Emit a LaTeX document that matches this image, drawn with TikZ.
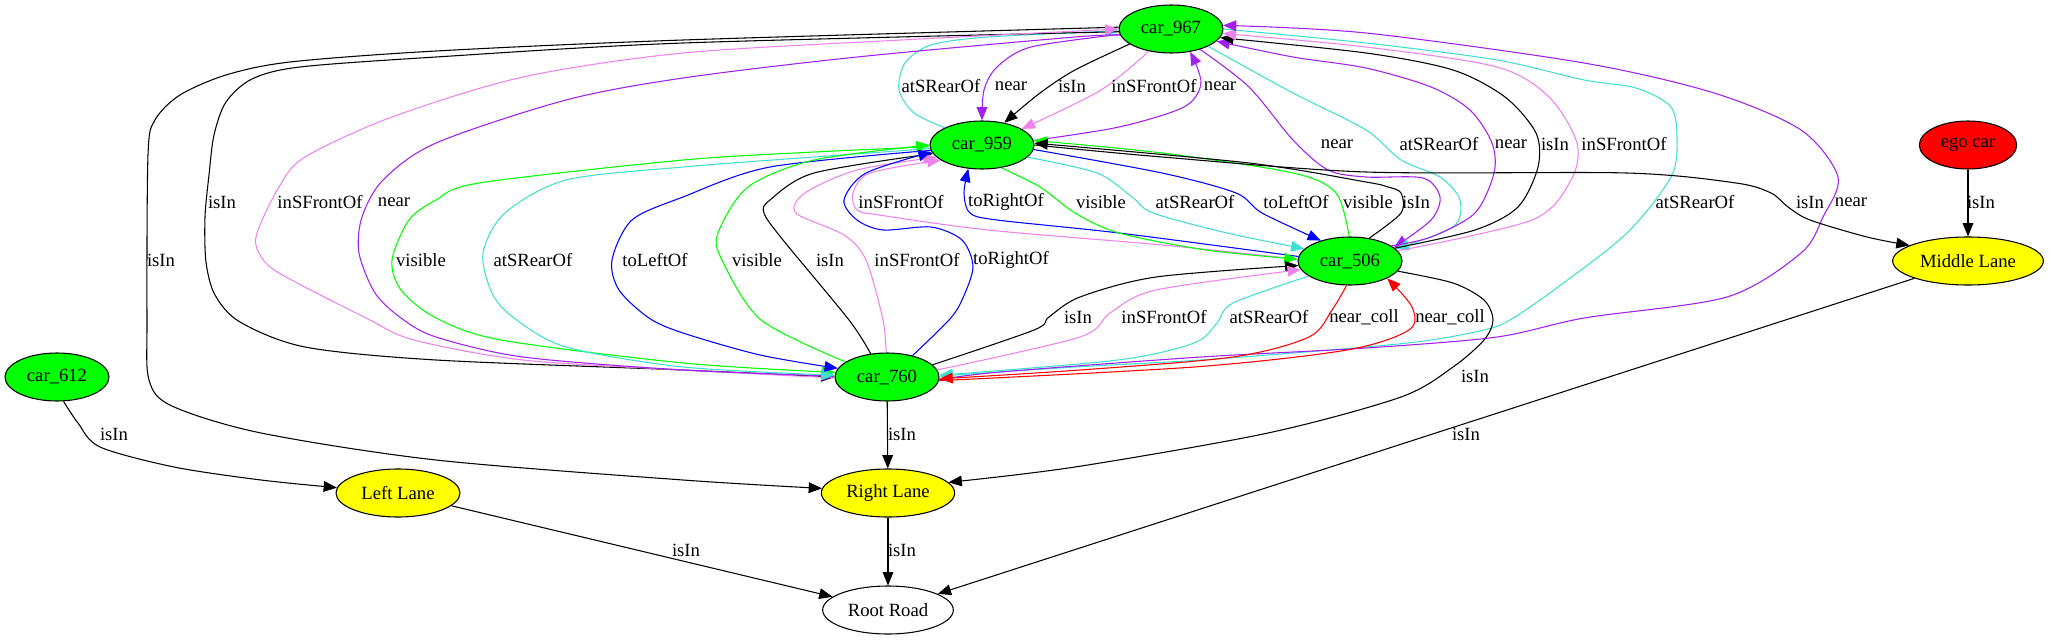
\documentclass[tikz,border=0pt]{standalone}
\usepackage{fontspec}
\setmainfont{Liberation Serif}
\usetikzlibrary{shapes.geometric,arrows.meta}
\definecolor{gvgreen}{HTML}{00FF00}
\definecolor{gvturq}{HTML}{40E0D0}
\definecolor{gvviolet}{HTML}{EE82EE}
\definecolor{gvpurple}{HTML}{A020F0}
\definecolor{gvblue}{HTML}{0000FF}
\definecolor{gvred}{HTML}{FF0000}
\definecolor{gvyellow}{HTML}{FFFF00}
\tikzset{
  nd/.style={ellipse, draw=black, line width=0.8pt, minimum height=36pt, inner sep=0pt, font=\fontsize{14pt}{16pt}\selectfont},
  car/.style={nd, fill=gvgreen, minimum width=78pt},
  lane/.style={nd, fill=gvyellow},
  e/.style={line width=0.8pt, -{Triangle[length=10pt,width=8pt]}},
  lab/.style={inner sep=0pt, font=\fontsize{14pt}{16pt}\selectfont},
}
\begin{document}
\begin{tikzpicture}[x=0.75pt,y=-0.75pt]
\useasboundingbox (0,0) rectangle (2049,639);
% nodes
\node[car] (c967) at (1171,29) {car\_967};
\node[car] (c959) at (982,145) {car\_959};
\node[car] (c506) at (1350,261) {car\_506};
\node[car] (c760) at (887,377) {car\_760};
\node[car] (c612) at (57,377) {car\_612};
\node[nd, fill=gvred, minimum width=73pt] (ego) at (1968,145) {ego car};
\node[lane, minimum width=113pt] (mid) at (1968,261) {Middle Lane};
\node[lane, minimum width=93pt] (left) at (398,493) {Left Lane};
\node[lane, minimum width=100pt] (right) at (888,493) {Right Lane};
\node[nd, fill=white, minimum width=98pt] (root) at (888,610) {Root Road};

% A: car_967 <-> car_959
\draw[e,gvturq] plot[smooth] coordinates {(c959.155) (914,113) (899,90) (905,63) (931,45) (988,37) (c967.182)};
\draw[e,gvpurple] plot[smooth] coordinates {(c967.186) (1031,47) (997,67) (984,90) (c959.90)};
\draw[e,black] plot[smooth] coordinates {(c967.200) (1075,70) (1040,93) (c959.45)};
\draw[e,gvviolet] plot[smooth] coordinates {(c967.225) (1101,90) (c959.22)};
\draw[e,gvpurple] plot[smooth] coordinates {(c959.5) (1119,127) (1184,107) (1201,83) (c967.310)};

% B: car_967 <-> car_506
\draw[e,gvpurple] plot[smooth] coordinates {(c967.325) (1249,87) (1293,140) (1328,170) (1366,177) (1423,178) (1440,197) (1431,220) (c506.17)};
\draw[e,gvturq] plot[smooth] coordinates {(c967.335) (1293,93) (1366,130) (1401,160) (1440,177) (1460,200) (1453,227) (c506.15)};
\draw[e,gvpurple] plot[smooth] coordinates {(c506.20) (1431,237) (1475,213) (1494,173) (1492,143) (1470,110) (1431,87) (1366,68) (1293,57) (c967.345)};
\draw[e,black] plot[smooth] coordinates {(c506.16) (1475,230) (1518,207) (1538,167) (1536,133) (1505,97) (1453,70) (1366,53) (c967.350)};
\draw[e,gvviolet] plot[smooth] coordinates {(c506.12) (1532,220) (1571,180) (1577,143) (1549,97) (1497,67) (1366,47) (c967.355)};

% C: car_967 <-> car_760 and car_967 -> Right Lane
\draw[e,gvturq] plot[smooth] coordinates {(c967.0) (1366,43) (1497,60) (1584,80) (1636,88) (1671,107) (1677,140) (1671,177) (1627,233) (1558,287) (1510,320) (1484,330) (1431,340) (1366,347) (1201,360) (1075,367) (c760.1)};
\draw[e,gvpurple] plot[smooth] coordinates {(c760.357) (1000,372) (1201,357) (1366,348) (1497,337) (1584,318) (1727,297) (1801,253) (1823,217) (1838,177) (1801,130) (1714,93) (1584,63) (1366,33) (c967.4)};
\draw[e,black] plot[smooth] coordinates {(c967.178) (683,40) (436,51) (290,62) (226,75) (180,95) (155,120) (148,155) (147,320) (149,380) (172,406) (261,433) (436,460) (683,480) (right.176)};
\draw[e,black] plot[smooth] coordinates {(c967.183) (683,43) (436,57) (300,67) (252,79) (226,102) (214,135) (209,175) (205,217) (206,262) (215,295) (240,322) (305,347) (436,360) (683,370) (c760.180)};
\draw[e,gvviolet] plot[smooth] coordinates {(c760.181) (683,370) (523,360) (414,340) (366,318) (279,273) (259,253) (257,233) (279,187) (305,157) (392,117) (523,77) (683,53) (901,40) (c967.180)};
\draw[e,gvpurple] plot[smooth] coordinates {(c967.187) (1075,37) (857,57) (683,78) (566,100) (436,143) (383,180) (362,217) (359,253) (375,293) (401,318) (436,337) (523,357) (683,370) (c760.179)};

% E: car_959 <-> car_760
\draw[e,gvgreen] plot[smooth] coordinates {(c959.182) (814,152) (683,160) (479,183) (436,200) (409,220) (392,260) (401,290) (436,318) (501,340) (683,363) (c760.175)};
\draw[e,gvturq] plot[smooth] coordinates {(c959.184) (814,157) (683,167) (566,180) (505,213) (483,253) (492,293) (514,318) (566,347) (683,367) (c760.178)};
\draw[e,gvblue] plot[smooth] coordinates {(c959.186) (770,167) (683,197) (632,220) (612,260) (619,290) (649,318) (683,333) (760,355) (c760.170)};
\draw[e,gvgreen] plot[smooth] coordinates {(c760.160) (761,320) (722,260) (718,233) (748,187) (814,160) (c959.180)};
\draw[e,black] plot[smooth] coordinates {(c760.125) (849,320) (783,240) (764,213) (770,200) (814,173) (c959.190)};
\draw[e,gvviolet] plot[smooth] coordinates {(c760.92) (883,320) (866,260) (844,235) (796,213) (805,193) (857,170) (c959.195)};
\draw[e,gvblue] plot[smooth] coordinates {(c760.40) (949,320) (962,300) (973,267) (962,240) (931,227) (883,230) (857,220) (844,200) (866,173) (c959.188)};

% D: car_959 <-> car_506
\draw[e,gvblue] plot[smooth] coordinates {(c506.175) (1119,233) (997,220) (970,213) (964,193) (c959.240)};
\draw[e,gvviolet] plot[smooth] coordinates {(c506.178) (1162,245) (988,230) (879,215) (857,210) (853,193) (870,173) (c959.200)};
\draw[e,gvgreen] plot[smooth] coordinates {(c959.310) (1040,187) (1075,213) (1119,233) (1206,250) (c506.178)};
\draw[e,gvturq] plot[smooth] coordinates {(c959.345) (1097,173) (1132,197) (1153,213) (1227,233) (c506.165)};
\draw[e,gvblue] plot[smooth] coordinates {(c959.355) (1162,173) (1236,193) (1262,213) (c506.145)};
\draw[e,gvgreen] plot[smooth] coordinates {(c506.92) (1336,193) (1293,173) (1162,153) (c959.5)};
\draw[e,black] plot[smooth] coordinates {(c506.50) (1401,213) (1401,193) (1388,187) (1366,182) (1249,163) (c959.2)};

% F: car_760 <-> car_506
\draw[e,black] plot[smooth] coordinates {(c760.15) (1034,330) (1049,317) (1080,297) (1156,277) (c506.185)};
\draw[e,gvviolet] plot[smooth] coordinates {(c760.8) (1080,337) (1110,313) (1156,290) (c506.190)};
\draw[e,gvturq] plot[smooth] coordinates {(c506.200) (1233,303) (1217,323) (1194,343) (1118,360) (c760.2)};
\draw[e,gvred] plot[smooth] coordinates {(c506.262) (1332,310) (1309,337) (1233,357) (1080,370) (c760.358)};
\draw[e,gvred] plot[smooth] coordinates {(c760.356) (1194,367) (1347,350) (1409,330) (1412,307) (c506.335)};

% G: lanes and road
\draw[e,black] (c760) -- (right);
\draw[e,black] plot[smooth] coordinates {(c506.348) (1453,283) (1484,300) (1493,320) (1484,340) (1453,367) (1401,397) (1268,433) (1075,467) (right.10)};
\draw[e,black] plot[smooth] coordinates {(c612.285) (78,423) (100,447) (174,467) (261,480) (left.175)};
\draw[e,black] plot[smooth] coordinates {(c959.0) (1162,157) (1366,172) (1627,173) (1736,183) (1771,193) (1788,207) (1810,220) (1867,237) (mid.165)};
\draw[e,black] (ego) -- (mid);
\draw[e,black] (left) -- (root);
\draw[e,black] (right) -- (root);
\draw[e,black] (mid) -- (root);

% labels
\node[lab] (l01) at (941,86) {atSRearOf};
\node[lab] (l02) at (1011,86) {near};
\node[lab] (l03) at (1072,86) {isIn};
\node[lab] (l04) at (1154,86) {inSFrontOf};
\node[lab] (l05) at (1220,86) {near};
\node[lab] (l06) at (1337,144) {near};
\node[lab] (l07) at (1439,144) {atSRearOf};
\node[lab] (l08) at (1511,144) {near};
\node[lab] (l09) at (1555,144) {isIn};
\node[lab] (l10) at (1624,144) {inSFrontOf};
\node[lab] (l11) at (222,202) {isIn};
\node[lab] (l12) at (320,202) {inSFrontOf};
\node[lab] (l13) at (394,202) {near};
\node[lab] (l14) at (901,202) {inSFrontOf};
\node[lab] (l15) at (1006,202) {toRightOf};
\node[lab] (l16) at (1101,202) {visible};
\node[lab] (l17) at (1195,202) {atSRearOf};
\node[lab] (l18) at (1296,202) {toLeftOf};
\node[lab] (l19) at (1368,202) {visible};
\node[lab] (l20) at (1416,202) {isIn};
\node[lab] (l21) at (1695,202) {atSRearOf};
\node[lab] (l22) at (1810,202) {isIn};
\node[lab] (l23) at (1851,202) {near};
\node[lab] (l24) at (1981,202) {isIn};
\node[lab] (l25) at (161,260) {isIn};
\node[lab] (l26) at (421,260) {visible};
\node[lab] (l27) at (533,260) {atSRearOf};
\node[lab] (l28) at (655,260) {toLeftOf};
\node[lab] (l29) at (757,260) {visible};
\node[lab] (l30) at (830,260) {isIn};
\node[lab] (l31) at (917,260) {inSFrontOf};
\node[lab] (l32) at (1011,260) {toRightOf};
\node[lab] (l33) at (1078,317) {isIn};
\node[lab] (l34) at (1164,317) {inSFrontOf};
\node[lab] (l35) at (1269,317) {atSRearOf};
\node[lab] (l36) at (1364,317) {near\_coll};
\node[lab] (l37) at (1450,317) {near\_coll};
\node[lab] (l38) at (114,434) {isIn};
\node[lab] (l39) at (902,434) {isIn};
\node[lab] (l40) at (1475,376) {isIn};
\node[lab] (l41) at (1466,434) {isIn};
\node[lab] (l42) at (686,550) {isIn};
\node[lab] (l43) at (902,550) {isIn};
\end{tikzpicture}
\end{document}
